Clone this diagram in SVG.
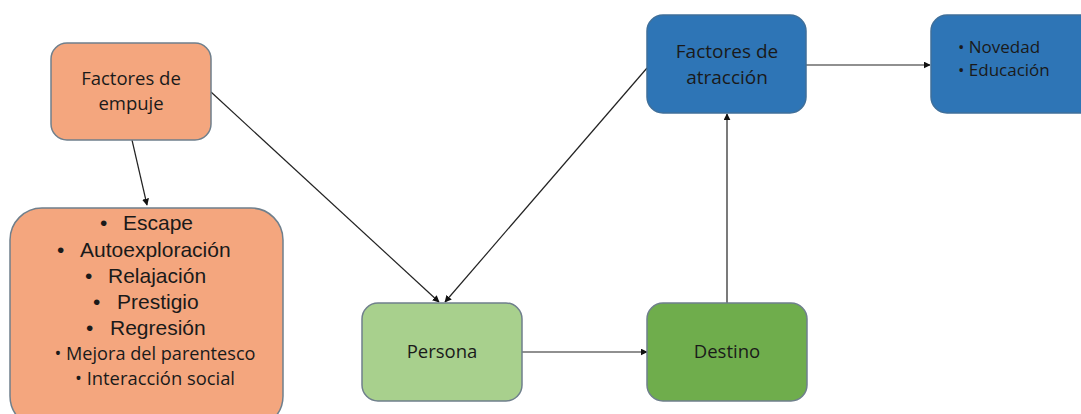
<svg xmlns="http://www.w3.org/2000/svg" width="1081" height="414" viewBox="0 0 1081 414">
<style>
.box{stroke:#6f7f8c;stroke-width:1.5}
.or{fill:#F4A67E}
.bl{fill:#2E75B6;stroke:#3f6f9a}
.lg{fill:#A8D08D}
.dg{fill:#6FAD4C}
.cal{font-family:"Open Sans","Noto Sans",sans-serif;fill:#1a1a1a;text-anchor:middle}
.st{text-anchor:start}
.ar{font-family:"Liberation Sans",Arial,sans-serif;fill:#1a1a1a;font-size:21px}
.edge{stroke:#222;stroke-width:1.2;fill:none;marker-end:url(#ah)}
</style>
<defs>
<marker id="ah" viewBox="0 0 10 10" refX="9" refY="5" markerWidth="7" markerHeight="7" markerUnits="userSpaceOnUse" orient="auto">
<path d="M0,0 L10,5 L0,10 z" fill="#111"/>
</marker>
</defs>
<rect width="1081" height="414" fill="#fff"/>
<g id="connectors">
<line class="edge" x1="211" y1="92" x2="439" y2="302"/>
<line class="edge" x1="647" y1="68" x2="445" y2="302"/>
<line class="edge" x1="132" y1="140" x2="147" y2="205"/>
<line class="edge" x1="522" y1="352" x2="647" y2="352"/>
<line class="edge" x1="727" y1="303" x2="727" y2="114"/>
<line class="edge" x1="806" y1="65" x2="930" y2="65"/>
</g>
<g id="empuje">
<rect class="box or" x="51" y="43" width="160" height="97" rx="16"/>
<text class="cal" font-size="18.5" x="131" y="85">Factores de</text>
<text class="cal" font-size="18.5" x="131" y="110">empuje</text>
</g>
<g id="lista-empuje">
<rect class="box or" x="10" y="208" width="273" height="220" rx="32"/>
<text class="ar" x="100" y="230">•<tspan x="123">Escape</tspan></text>
<text class="ar" x="57" y="257">•<tspan x="80">Autoexploración</tspan></text>
<text class="ar" x="85" y="283">•<tspan x="108">Relajación</tspan></text>
<text class="ar" x="93" y="309">•<tspan x="117">Prestigio</tspan></text>
<text class="ar" x="86" y="335">•<tspan x="110">Regresión</tspan></text>
<text class="cal" font-size="17.5" x="155" y="360" textLength="201" lengthAdjust="spacingAndGlyphs">• Mejora del parentesco</text>
<text class="cal" font-size="17.5" x="155" y="385" textLength="160" lengthAdjust="spacingAndGlyphs">• Interacción social</text>
</g>
<g id="persona">
<rect class="box lg" x="362" y="303" width="160" height="98" rx="16"/>
<text class="cal" font-size="18.5" x="442" y="358">Persona</text>
</g>
<g id="destino">
<rect class="box dg" x="647" y="303" width="160" height="98" rx="16"/>
<text class="cal" font-size="18.5" x="727" y="358">Destino</text>
</g>
<g id="atraccion">
<rect class="box bl" x="647" y="15" width="159" height="98" rx="16"/>
<text class="cal" font-size="19" x="727" y="58" fill="#0e1a2a">Factores de</text>
<text class="cal" font-size="19" x="727" y="84" fill="#0e1a2a">atracción</text>
</g>
<g id="novedad">
<rect class="box bl" x="931" y="15" width="170" height="98" rx="16"/>
<text class="cal st" font-size="17" x="958" y="53">• Novedad</text>
<text class="cal st" font-size="17" x="958" y="76">• Educación</text>
</g>
</svg>
